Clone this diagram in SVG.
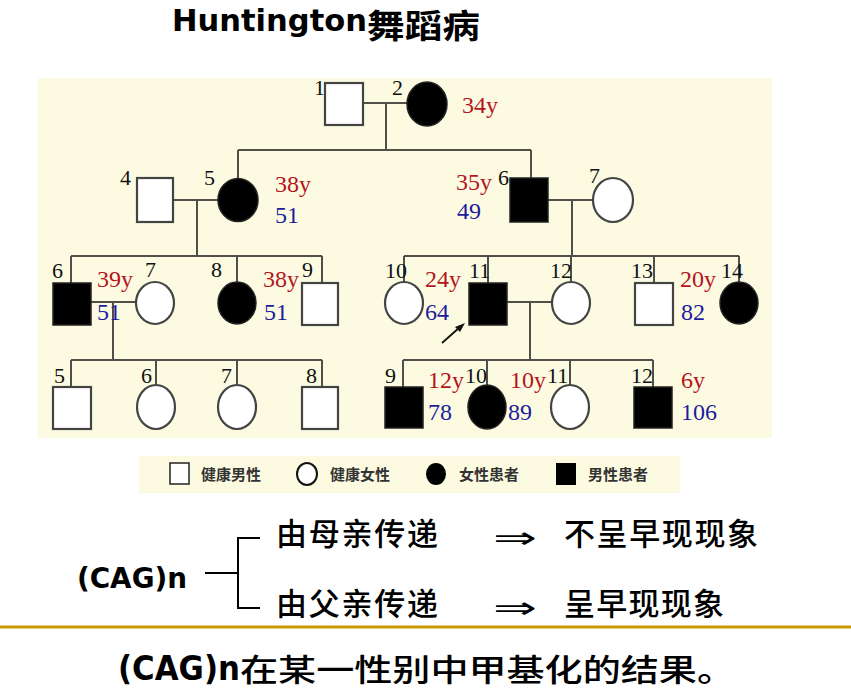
<svg xmlns="http://www.w3.org/2000/svg" width="851" height="692" viewBox="0 0 851 692">
<style>
.bg{fill:#FCFBE2}
.ln{stroke:#505048;stroke-width:2;fill:none}
.m{fill:#fff;stroke:#444;stroke-width:2.2}
.a{fill:#000;stroke:#222;stroke-width:1.5}
.n{font-family:"Liberation Serif",serif;font-size:22px;fill:#111}
.r{font-family:"Liberation Serif",serif;font-size:24px;fill:#B5141C}
.b{font-family:"Liberation Serif",serif;font-size:24px;fill:#1C1C9E}
.lg{font-family:"Noto Sans CJK SC",sans-serif;font-size:15px;font-weight:bold;fill:#333}
.cj{font-family:"Noto Sans CJK SC",sans-serif;font-size:31px;font-weight:500;fill:#000}
.cm{font-family:"DejaVu Sans",sans-serif;font-weight:bold;fill:#000}
</style>
<rect width="851" height="692" fill="#fff"/>
<g id="title">
<text class="cm" x="172" y="31" font-size="31" textLength="195" lengthAdjust="spacingAndGlyphs">Huntington</text>
<text x="367" y="38" font-family="'Noto Sans CJK SC',sans-serif" font-size="33" font-weight="bold" textLength="113" lengthAdjust="spacingAndGlyphs">舞蹈病</text>
</g>
<rect class="bg" x="38" y="78" width="734" height="360"/>
<g id="connectors">
<path class="ln" d="M363 103H407M386 103V150M238 150H531M238 150V179M531 150V178"/>
<path class="ln" d="M173 200H218M197 200V256M71 256H322M71 256V283M237 256V282M322 256V283"/>
<path class="ln" d="M548 200H593M572 200V256M404 256H739M404 256V282M488 256V283M571 256V282M654 256V283M739 256V282"/>
<path class="ln" d="M91 302H136M113 302V360M71 360H322M71 360V387M156 360V385M237 360V385M322 360V387"/>
<path class="ln" d="M507 302H552M530 302V360M403 360H653M403 360V387M487 360V385M570 360V385M653 360V387"/>
<path d="M442 343L460 327" stroke="#111" stroke-width="1.8"/>
<path d="M465 323L455 327L460 332Z" fill="#111"/>
</g>
<g id="I1"><rect class="m" x="325" y="83" width="38" height="42"/><text class="n" x="314" y="95">1</text></g>
<g id="I2"><ellipse class="a" cx="427" cy="104" rx="20" ry="22"/><text class="n" x="392" y="95">2</text><text class="r" x="462" y="113">34y</text></g>
<g id="II4"><rect class="m" x="137" y="178" width="36" height="44"/><text class="n" x="120" y="185">4</text></g>
<g id="II5"><ellipse class="a" cx="238" cy="200" rx="20" ry="21.5"/><text class="n" x="204" y="185">5</text><text class="r" x="275" y="192">38y</text><text class="b" x="275" y="223">51</text></g>
<g id="II6"><rect class="a" x="510" y="178" width="38" height="44"/><text class="n" x="498" y="185">6</text><text class="r" x="456" y="190">35y</text><text class="b" x="457" y="219">49</text></g>
<g id="II7"><ellipse class="m" cx="613" cy="200" rx="20" ry="22"/><text class="n" x="589" y="183">7</text></g>
<g id="III6"><rect class="a" x="53" y="283" width="38" height="42"/><text class="n" x="52" y="278">6</text><text class="r" x="97" y="287">39y</text><text class="b" x="97" y="320">51</text></g>
<g id="III7"><ellipse class="m" cx="155" cy="303" rx="19" ry="21"/><text class="n" x="145" y="277">7</text></g>
<g id="III8"><ellipse class="a" cx="237" cy="303" rx="19" ry="21"/><text class="n" x="211" y="277">8</text><text class="r" x="263" y="287">38y</text><text class="b" x="264" y="320">51</text></g>
<g id="III9"><rect class="m" x="302" y="283" width="36" height="42"/><text class="n" x="302" y="277">9</text></g>
<g id="III10"><ellipse class="m" cx="404" cy="303" rx="19" ry="21"/><text class="n" x="385" y="278">10</text><text class="r" x="425" y="287">24y</text><text class="b" x="425" y="320">64</text></g>
<g id="III11"><rect class="a" x="469" y="283" width="38" height="42"/><text class="n" x="469" y="278">11</text></g>
<g id="III12"><ellipse class="m" cx="571" cy="303" rx="19" ry="21"/><text class="n" x="550" y="278">12</text></g>
<g id="III13"><rect class="m" x="635" y="283" width="38" height="42"/><text class="n" x="631" y="278">13</text><text class="r" x="680" y="287">20y</text><text class="b" x="681" y="320">82</text></g>
<g id="III14"><ellipse class="a" cx="739" cy="303" rx="19" ry="21"/><text class="n" x="721" y="278">14</text></g>
<g id="IV5"><rect class="m" x="53" y="387" width="38" height="42"/><text class="n" x="54" y="383">5</text></g>
<g id="IV6"><ellipse class="m" cx="156" cy="407" rx="19" ry="22"/><text class="n" x="141" y="383">6</text></g>
<g id="IV7"><ellipse class="m" cx="237" cy="407" rx="19" ry="22"/><text class="n" x="221" y="383">7</text></g>
<g id="IV8"><rect class="m" x="302" y="387" width="36" height="42"/><text class="n" x="306" y="383">8</text></g>
<g id="IV9"><rect class="a" x="385" y="387" width="38" height="41"/><text class="n" x="385" y="383">9</text><text class="r" x="428" y="388">12y</text><text class="b" x="428" y="420">78</text></g>
<g id="IV10"><ellipse class="a" cx="487" cy="407" rx="19" ry="22"/><text class="n" x="465" y="383">10</text><text class="r" x="510" y="388">10y</text><text class="b" x="508" y="420">89</text></g>
<g id="IV11"><ellipse class="m" cx="570" cy="407" rx="19" ry="22"/><text class="n" x="547" y="383">11</text></g>
<g id="IV12"><rect class="a" x="634" y="387" width="38" height="41"/><text class="n" x="631" y="383">12</text><text class="r" x="681" y="388">6y</text><text class="b" x="681" y="420">106</text></g>
<g id="legend">
<rect class="bg" x="139" y="456" width="541" height="37"/>
<rect x="170" y="463" width="19" height="21" fill="#fff" stroke="#222" stroke-width="1.5"/>
<text class="lg" x="201" y="480">健康男性</text>
<ellipse cx="307" cy="474" rx="10" ry="11" fill="#fff" stroke="#111" stroke-width="2"/>
<text class="lg" x="330" y="480">健康女性</text>
<ellipse cx="436" cy="474" rx="10" ry="11" fill="#000"/>
<text class="lg" x="459" y="480">女性患者</text>
<rect x="556" y="463" width="20" height="22" fill="#000"/>
<text class="lg" x="588" y="480">男性患者</text>
</g>
<g id="notes">
<text class="cm" x="77" y="588" font-size="28" textLength="110" lengthAdjust="spacingAndGlyphs">(CAG)n</text>
<path d="M205 573H238M260 538H238V608H260" stroke="#000" stroke-width="2" fill="none"/>
<text class="cj" x="276" y="545" textLength="162">由母亲传递</text>
<text x="493" y="548" font-family="'DejaVu Sans',sans-serif" font-size="30" textLength="44" lengthAdjust="spacingAndGlyphs">⇒</text>
<text class="cj" x="564" y="545" textLength="194">不呈早现现象</text>
<text class="cj" x="276" y="615" textLength="162">由父亲传递</text>
<text x="493" y="618" font-family="'DejaVu Sans',sans-serif" font-size="30" textLength="44" lengthAdjust="spacingAndGlyphs">⇒</text>
<text class="cj" x="564" y="615" textLength="160">呈早现现象</text>
<line x1="0" y1="627" x2="851" y2="627" stroke="#CC9A06" stroke-width="3"/>
<text class="cm" x="118" y="680" font-size="34" textLength="122" lengthAdjust="spacingAndGlyphs">(CAG)n</text>
<text class="cj" x="240" y="681" font-size="38" textLength="495" lengthAdjust="spacingAndGlyphs">在某一性别中甲基化的结果。</text>
</g>
</svg>
